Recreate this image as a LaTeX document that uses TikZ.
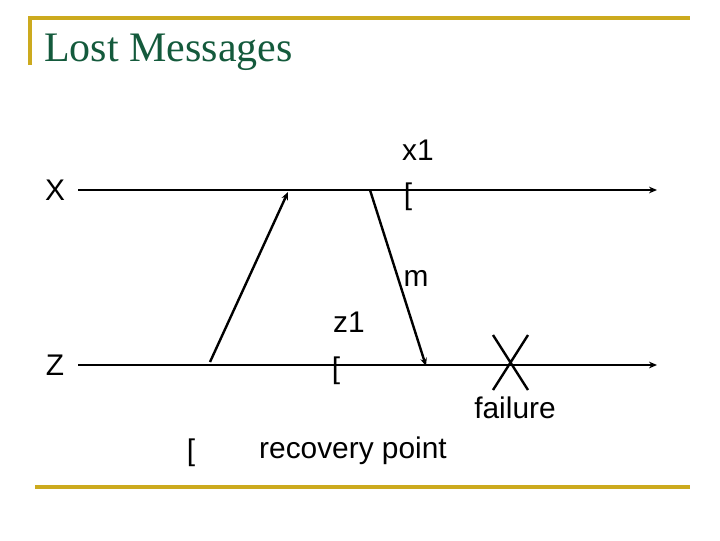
\documentclass[tikz,border=0pt]{standalone}
\usepackage{fontspec}
\setmainfont{Liberation Serif}
\newfontfamily\arialf{Liberation Sans}
\usetikzlibrary{arrows.meta}
\definecolor{gold}{RGB}{204,170,30}
\definecolor{tgreen}{RGB}{20,90,60}
\tikzset{lbl/.style={font=\arialf\fontsize{22.4}{26}\selectfont,inner sep=0pt},
 tl/.style={line width=2pt,-{Stealth[length=6pt,width=5pt]}},
 msg/.style={line width=1.8pt,-{Stealth[length=6pt,width=5pt]}},
 rule/.style={gold,line width=2.3pt}}
\begin{document}
\begin{tikzpicture}[x=0.75pt,y=-0.75pt]
\useasboundingbox (0,0) rectangle (720,540);
\draw[rule] (30,65) -- (30,18) -- (690,18);
\draw[rule] (35,487) -- (690,487);
\node[anchor=west,inner sep=0pt,text=tgreen,font=\fontsize{31.5}{36}\selectfont] (title) at (44,52) {Lost Messages};
\node[lbl] (X) at (55,190) {X};
\node[lbl] (Z) at (55,365) {Z};
\coordinate (xs) at (78,190); \coordinate (xe) at (657,190);
\coordinate (zs) at (78,365); \coordinate (ze) at (657,365);
\draw[tl] (xs) -- (xe);
\draw[tl] (zs) -- (ze);
\coordinate (a1) at (210,362); \coordinate (a2) at (288,192);
\coordinate (b1) at (370,190); \coordinate (b2) at (426,366);
\draw[msg] (a1) -- (a2);
\draw[msg] (b1) -- (b2);
\node[lbl] (x1) at (418,150) {x1};
\node[lbl] (xb) at (408,197) {[};
\node[lbl] (m) at (416,278) {m};
\node[lbl] (z1) at (349,322) {z1};
\node[lbl] (zb) at (336,371) {[};
\coordinate (c1) at (493,335); \coordinate (c2) at (528,390);
\coordinate (c3) at (528,335); \coordinate (c4) at (493,390);
\draw[line width=1.8pt] (c1) -- (c2) (c3) -- (c4);
\node[lbl] (fail) at (515,408) {failure};
\node[lbl] (rb) at (191,453) {[};
\node[lbl] (rp) at (353,451) {recovery point};
\end{tikzpicture}
\end{document}
